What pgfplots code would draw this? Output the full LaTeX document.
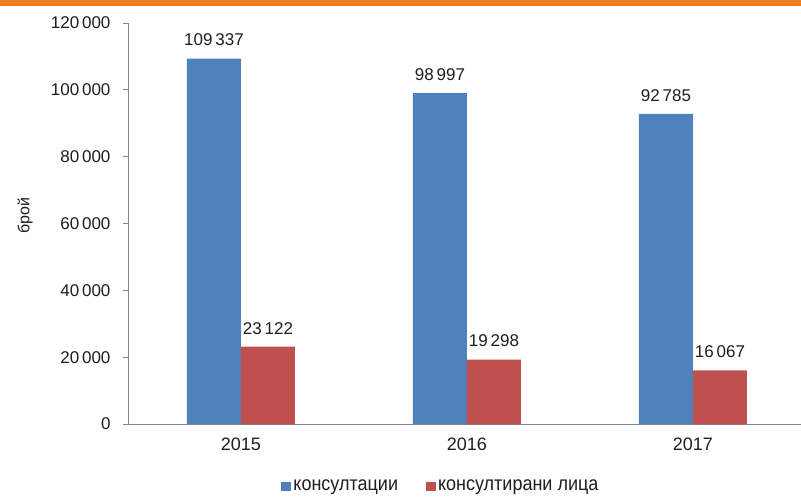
\documentclass[border=0pt]{standalone}
\usepackage{fontspec}
\setmainfont{Liberation Sans}
\newfontfamily\legfont[FakeStretch=0.9]{Liberation Sans}
\usepackage{pgfplots}
\pgfplotsset{compat=1.18}
\definecolor{barblue}{RGB}{79,129,189}
\definecolor{barred}{RGB}{192,80,77}
\definecolor{axgray}{RGB}{134,134,134}
\definecolor{topor}{RGB}{240,125,28}
\definecolor{txt}{RGB}{30,30,30}

\begin{document}
\begin{tikzpicture}
\path[use as bounding box] (-128pt,-74pt) rectangle (673pt,424pt);
\fill[topor] (-128pt,418pt) rectangle (673pt,424pt);
\begin{axis}[
  scale only axis,
  width=673pt, height=401pt,
  xmin=-0.5, xmax=2.478,
  ymin=0, ymax=120000,
  ybar=0pt, bar width=54pt,
  axis x line*=bottom, axis y line*=left,
  axis line style={axgray, line width=0.9pt},
  tick style={axgray, line width=0.9pt},
  tick align=outside,
  xtick={0,1,2}, xticklabels={2015,2016,2017},
  x tick style={draw=none},
  extra x ticks={-0.5,0.5,1.5},
  extra x tick style={xticklabel=\empty, major tick length=6pt, tick style={draw=axgray, line width=0.9pt}},
  ytick={0,20000,40000,60000,80000,100000,120000},
  major tick length=5pt,
  scaled y ticks=false,
  /pgf/number format/fixed,
  /pgf/number format/precision=0,
  /pgf/number format/1000 sep={\,},
  /pgf/number format/assume math mode=true,
  xticklabel style={font=\fontsize{18}{20}\selectfont, text=txt, yshift=-5pt},
  yticklabel style={font=\fontsize{17}{19}\selectfont, text=txt, xshift=-9pt},
  ylabel={брой},
  ylabel style={font=\fontsize{16}{18}\selectfont, text=txt, at={(axis description cs:-0.153,0.519)}, anchor=center},
  nodes near coords,
  every node near coord/.append style={font=\fontsize{17}{19}\selectfont, text=txt, yshift=9pt},
  legend columns=2,
  legend style={draw=none, fill=none, at={(axis description cs:0.465,-0.155)}, anchor=center,
    inner sep=0pt, font=\legfont\fontsize{20}{22}\selectfont, text=txt,
    /tikz/every even column/.append style={column sep=26pt}},
  legend image code/.code={\path[#1, draw=none] (0pt,-4.5pt) rectangle (10pt,4.5pt);},
  clip=false,
]
\addplot[fill=barblue, draw=none] coordinates {(0,109337) (1,98997) (2,92785)};
\addlegendentry{консултации}
\addplot[fill=barred, draw=none] coordinates {(0,23122) (1,19298) (2,16067)};
\addlegendentry{консултирани лица}
\end{axis}
\end{tikzpicture}
\end{document}
